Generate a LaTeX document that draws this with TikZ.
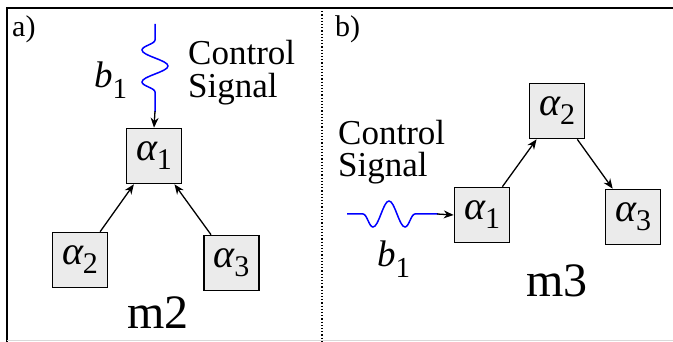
\documentclass[tikz,border=0pt]{standalone}
\usepackage{fontspec}
\setmainfont{Liberation Serif}
\usetikzlibrary{decorations.pathmorphing,arrows.meta}
\newfontfamily\tms{Liberation Serif}
\newcommand{\alp}[1]{{\fontsize{40}{40}\selectfont\tms\itshape α}\raisebox{-9pt}{\fontsize{30}{30}\selectfont\tms #1}}
\newcommand{\bsig}{{\fontsize{37}{37}\selectfont\tms\itshape b}\raisebox{-11pt}{\fontsize{29}{29}\selectfont\tms 1}}
\tikzset{
  box/.style={draw, line width=1.6pt, fill=gray!16, minimum size=55pt, inner sep=0pt},
  conn/.style={line width=1.3pt, -{Stealth[length=10pt,width=8pt]}},
  wave/.style={draw=blue, line width=1.5pt, decorate,
    decoration={snake, mirror, segment length=32pt, amplitude=13pt, pre length=16pt, post length=8pt}},
  txt/.style={inner sep=0pt, anchor=base west, font=\fontsize{35}{35}\selectfont\tms},
  lbl/.style={inner sep=0pt, anchor=base west, font=\fontsize{30}{30}\selectfont\tms},
  big/.style={inner sep=0pt, anchor=base, font=\fontsize{48}{48}\selectfont\tms},
}
\begin{document}
\begin{tikzpicture}[x=1pt,y=-1pt]
\useasboundingbox (0,0) rectangle (673,342);
% frame
\draw[line width=2pt] (6,8) -- (673,8);
\draw[line width=2pt] (7,8) -- (7,342);
\draw[gray!30, line width=1.5pt] (7,340.5) -- (673,340.5);
\draw[dotted, line width=1.2pt] (322,8) -- (322,342);
% panel a
\node[lbl] (la) at (12,37) {a)};
\node[box] (a1) at (154,156) {\alp{1}};
\node[box] (a2) at (80,260) {\alp{2}};
\node[box] (a3) at (231.5,263) {\alp{3}};
\draw[conn] (a2) -- (a1);
\draw[conn] (a3) -- (a1);
\coordinate (wa0) at (155,24);
\coordinate (wa1) at (155,112);
\draw[wave] (wa0) -- (wa1);
\draw[conn] ([yshift=1pt]wa1) -- (a1.north);
\node[inner sep=0pt, anchor=base west] (ba) at (94,88) {\bsig};
\node[txt] (ca1) at (188,65) {Control};
\node[txt] (ca2) at (188,98) {Signal};
\node[big] (m2) at (158,328) {m2};
% panel b
\node[lbl] (lb) at (335,37) {b)};
\node[box] (b1) at (482,215) {\alp{1}};
\node[box] (b2) at (557,111) {\alp{2}};
\node[box] (b3) at (633,217) {\alp{3}};
\draw[conn] (b1) -- (b2);
\draw[conn] (b2) -- (b3);
\coordinate (wb0) at (347,214);
\coordinate (wb1) at (438,214);
\draw[wave] (wb0) -- (wb1);
\draw[conn] ([xshift=-1pt]wb1) -- (b1.west);
\node[inner sep=0pt, anchor=base west] (bb) at (377,267) {\bsig};
\node[txt] (cb1) at (338,145) {Control};
\node[txt] (cb2) at (338,177) {Signal};
\node[big] (m3) at (557,297) {m3};
\end{tikzpicture}
\end{document}
